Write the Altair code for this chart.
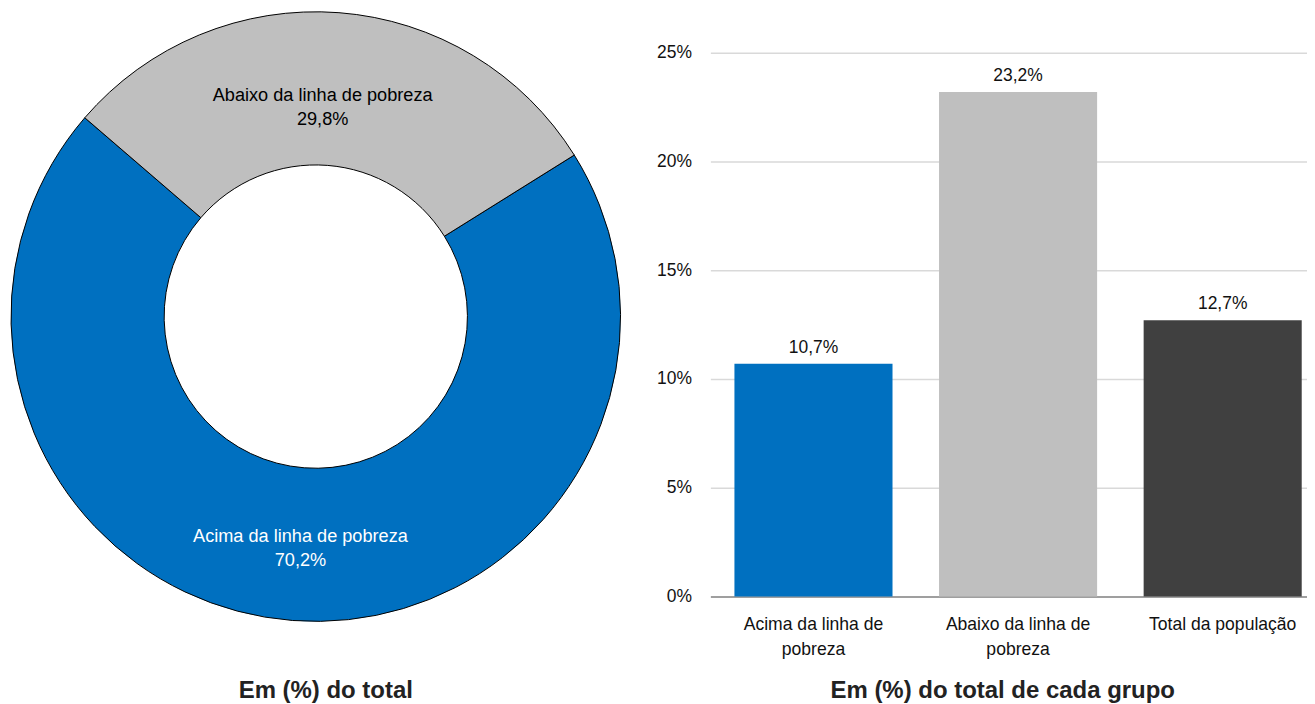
import math
import altair as alt
import pandas as pd

# ---- data ----
donut_cats = ["Acima da linha de pobreza", "Abaixo da linha de pobreza"]
donut_vals = [70.2, 29.8]
donut_order = [0, 1]

bar_cats = ["Acima da linha de|pobreza", "Abaixo da linha de|pobreza", "Total da população"]
bar_vals = [10.7, 23.2, 12.7]
y_ticks = [0, 5, 10, 15, 20, 25]

BLUE = "#0070C0"
GRAY = "#BFBFBF"
DARK = "#404040"
FONT = "Liberation Sans"

donut_df = pd.DataFrame({"cat": donut_cats, "v": donut_vals, "i": donut_order})
bar_df = pd.DataFrame({"lab": bar_cats, "v": bar_vals})

start = math.radians(58.0)

base = alt.Chart(donut_df).transform_calculate(
    label="datum.cat + '\\n' + replace(format(datum.v, '.1f'), '.', ',') + '%'"
).encode(
    theta=alt.Theta("v:Q", stack=True, scale=alt.Scale(range=[start, start + 2 * math.pi])),
    order=alt.Order("i:O"),
)

arc = base.mark_arc(outerRadius=305.5, innerRadius=152, stroke="black", strokeWidth=1).encode(
    color=alt.Color("cat:N", scale=alt.Scale(domain=donut_cats, range=[BLUE, GRAY]), legend=None)
)

txt_blue = base.mark_text(radius=222, dx=1.5, fontSize=18.2, color="white", lineBreak="\n",
                          lineHeight=24, font=FONT).encode(
    text=alt.condition("datum.i == 0", "label:N", alt.value(""))
)
txt_gray = base.mark_text(radius=222, dx=-10, fontSize=18.2, color="black", lineBreak="\n",
                          lineHeight=24, font=FONT).encode(
    text=alt.condition("datum.i == 1", "label:N", alt.value(""))
)

donut = alt.layer(arc, txt_blue, txt_gray).properties(
    width=613, height=613,
    title=alt.TitleParams("Em (%) do total", orient="bottom", fontSize=24, fontWeight="bold",
                          font=FONT, offset=56, dx=10, color="#222222"),
)

bbase = alt.Chart(bar_df).encode(
    x=alt.X("lab:N", sort=None,
            scale=alt.Scale(paddingInner=0.2274, paddingOuter=0.0717, align=0.82, round=False),
            axis=alt.Axis(title=None, labelExpr="split(datum.label, '|')", labelAngle=0,
                          labelFontSize=17.6, labelLineHeight=25, labelPadding=19, ticks=False,
                          domainColor="#898989", domainWidth=1.5, labelColor="#111111",
                          labelFont=FONT, grid=False)),
    y=alt.Y("v:Q", scale=alt.Scale(domain=[0, 26.93], nice=False),
            axis=alt.Axis(values=y_ticks, labelExpr="datum.value + '%'", title=None, domain=False,
                          ticks=False, tickSize=0, gridColor="#D9D9D9", gridWidth=1.5,
                          labelPadding=19, labelFontSize=17.5, labelColor="#111111", labelFont=FONT)),
)

bars = bbase.mark_bar().encode(
    color=alt.Color("lab:N", scale=alt.Scale(domain=bar_cats, range=[BLUE, GRAY, DARK]), legend=None)
)
btxt = bbase.transform_calculate(
    t="replace(format(datum.v, '.1f'), '.', ',') + '%'"
).mark_text(dy=-11, baseline="alphabetic", fontSize=17.5, color="#111111", font=FONT).encode(
    text="t:N"
)

barchart = alt.layer(bars, btxt).properties(
    width=598, height=587,
    title=alt.TitleParams("Em (%) do total de cada grupo", orient="bottom", fontSize=24,
                          fontWeight="bold", font=FONT, offset=21, dx=-6, color="#222222"),
)

chart = alt.hconcat(donut, barchart, spacing=33).resolve_scale(
    color="independent", theta="independent"
).properties(
    padding={"left": 1, "top": 1, "right": 0, "bottom": 0}
).configure(font=FONT).configure_view(stroke=None)

chart.save("out.html", embed_options={"renderer": "svg", "actions": False})
